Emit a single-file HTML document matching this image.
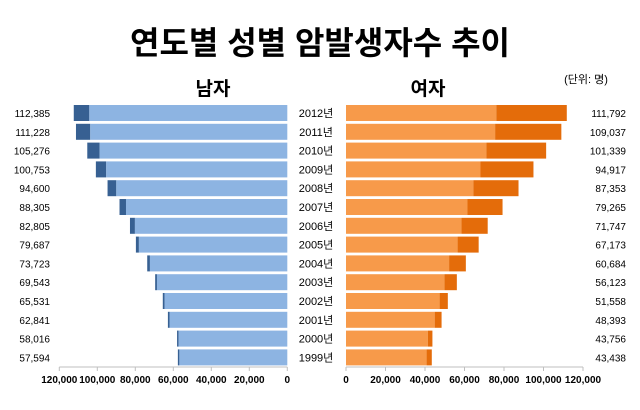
<!DOCTYPE html>
<html><head><meta charset="utf-8"><style>
body{margin:0;background:#fff;}
svg text{font-family:"Liberation Sans","Noto Sans CJK KR",sans-serif;}
</style></head><body>
<svg id="chart" width="640" height="405" viewBox="0 0 640 405" xmlns="http://www.w3.org/2000/svg">
<rect width="640" height="405" fill="#fff"/>
<text x="320" y="54" text-anchor="middle" font-size="32" font-weight="bold" fill="#000">연도별 성별 암발생자수 추이</text>
<text x="213" y="95" text-anchor="middle" font-size="19" font-weight="bold" fill="#000">남자</text>
<text x="428" y="95" text-anchor="middle" font-size="19" font-weight="bold" fill="#000">여자</text>
<text x="586" y="83" text-anchor="middle" font-size="11" fill="#000">(단위: 명)</text>
<g id="bars"></g>
</svg>
<script>
const years = ["2012년","2011년","2010년","2009년","2008년","2007년","2006년","2005년","2004년","2003년","2002년","2001년","2000년","1999년"];
const maleTotal = [112385,111228,105276,100753,94600,88305,82805,79687,73723,69543,65531,62841,58016,57594];
const maleBase = [104200,103700,98800,95300,90000,84900,80200,78100,72300,68600,64600,62000,57200,56800];
const femaleTotal = [111792,109037,101339,94917,87353,79265,71747,67173,60684,56123,51558,48393,43756,43438];
const femaleBase = [76100,75500,71100,68100,64500,61500,58500,56500,52200,49900,47400,44900,41400,40800];
const maleTicks = [120000,100000,80000,60000,40000,20000,0];
const femaleTicks = [0,20000,40000,60000,80000,100000,120000];

const NS="http://www.w3.org/2000/svg";
const g=document.getElementById('bars');
const L0=287.3, L120=59.3, R0=346, R120=583;
const xL=v=>L0-(L0-L120)*v/120000;
const xR=v=>R0+(R120-R0)*v/120000;
const rowY=i=>105+i*18.8;
const BH=16;
function el(tag,attrs,txt){const e=document.createElementNS(NS,tag);for(const k in attrs)e.setAttribute(k,attrs[k]);if(txt!==undefined)e.textContent=txt;g.appendChild(e);return e;}
function fmt(v){return v.toLocaleString('en-US');}
years.forEach((yr,i)=>{
  const y=rowY(i);
  let e=el('rect',{x:xL(maleTotal[i]),y:y,width:xL(maleBase[i])-xL(maleTotal[i]),height:BH,fill:'#376092'});
  
  
  e=el('rect',{x:xL(maleBase[i]),y:y,width:L0-xL(maleBase[i]),height:BH,fill:'#8db4e2'});
  
  
  e=el('rect',{x:R0,y:y,width:xR(femaleBase[i])-R0,height:BH,fill:'#f79a4a'});
  
  
  e=el('rect',{x:xR(femaleBase[i]),y:y,width:xR(femaleTotal[i])-xR(femaleBase[i]),height:BH,fill:'#e46c0a'});
  
  
  e=el('text',{x:316,y:y+12,'text-anchor':'middle','font-size':'11',fill:'#000'},yr);
  
  
  e=el('text',{x:50,y:y+12,'text-anchor':'end','font-size':'10',fill:'#000'},fmt(maleTotal[i]));
  
  
  e=el('text',{x:626,y:y+12,'text-anchor':'end','font-size':'10',fill:'#000'},fmt(femaleTotal[i]));
  
  
});
let a=el('line',{x1:L120,x2:L0,y1:367,y2:367,stroke:'#bfbfbf'});


a=el('line',{x1:R0,x2:R120,y1:367,y2:367,stroke:'#bfbfbf'});


maleTicks.forEach(v=>{
  let t=el('line',{x1:xL(v),x2:xL(v),y1:367,y2:371,stroke:'#bfbfbf'});
  
  
  t=el('text',{x:xL(v),y:383,'text-anchor':'middle','font-size':'10','font-weight':'bold',fill:'#000'},fmt(v));
  
  
});
femaleTicks.forEach(v=>{
  let t=el('line',{x1:xR(v),x2:xR(v),y1:367,y2:371,stroke:'#bfbfbf'});
  
  
  t=el('text',{x:xR(v),y:383,'text-anchor':'middle','font-size':'10','font-weight':'bold',fill:'#000'},fmt(v));
  
  
});
</script>
</body></html>
